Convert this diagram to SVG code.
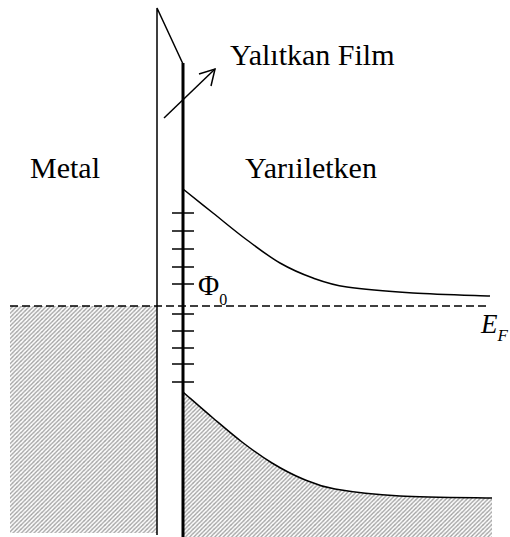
<svg xmlns="http://www.w3.org/2000/svg" width="510" height="537" viewBox="0 0 510 537">
<defs>
<pattern id="hatch" patternUnits="userSpaceOnUse" width="4.2" height="4.2">
<rect width="4.2" height="4.2" fill="#fff"/>
<path d="M-1,1.1 L1.1,-1 M0,4.2 L4.2,0 M3.1,5.2 L5.2,3.1" stroke="#a0a0a0" stroke-width="1.3"/>
</pattern>
<style>
.ln{stroke:#000;fill:none;stroke-width:1.5}
.tk{stroke:#000;stroke-width:1.5}
</style>
</defs>
<g id="metal-fill">
<rect x="10" y="306" width="147" height="227" fill="url(#hatch)"/>
</g>
<g id="semi-fill">
<path d="M183,392 C188,396.3 203.2,409.7 213,418 C222.8,426.3 232.2,434.5 242,442 C251.8,449.5 261.8,456.8 272,463 C282.2,469.2 292.5,474.7 303,479 C313.5,483.3 318.8,486.2 335,489 C351.2,491.8 373.8,494.5 400,496 C426.2,497.5 476.7,497.7 492,498 L492,537 L183,537 Z" fill="url(#hatch)"/>
</g>
<g id="metal-edge">
<path class="ln" d="M157,535 L157,8 L183,64"/>
</g>
<g id="insulator">
<line x1="183" y1="63" x2="183" y2="537" stroke="#000" stroke-width="3"/>
</g>
<g id="states">
<line class="tk" x1="172" y1="213" x2="194" y2="213"/>
<line class="tk" x1="172" y1="231" x2="194" y2="231"/>
<line class="tk" x1="172" y1="249" x2="194" y2="249"/>
<line class="tk" x1="172" y1="267" x2="194" y2="267"/>
<line class="tk" x1="172" y1="284" x2="194" y2="284"/>
<line class="tk" x1="172" y1="314" x2="194" y2="314"/>
<line class="tk" x1="172" y1="331" x2="194" y2="331"/>
<line class="tk" x1="172" y1="348" x2="194" y2="348"/>
<line class="tk" x1="172" y1="364" x2="194" y2="364"/>
<line class="tk" x1="172" y1="382" x2="194" y2="382"/>
</g>
<g id="bands">
<path class="ln" d="M183,189 C188,193 202.3,204.5 213,213 C223.7,221.5 235.8,231.7 247,240 C258.2,248.3 269,256.7 280,263 C291,269.3 301.8,274 313,278 C324.2,282 330.3,284.5 347,287 C363.7,289.5 389.2,291.5 413,293 C436.8,294.5 477.2,295.5 490,296"/>
<path class="ln" d="M183,392 C188,396.3 203.2,409.7 213,418 C222.8,426.3 232.2,434.5 242,442 C251.8,449.5 261.8,456.8 272,463 C282.2,469.2 292.5,474.7 303,479 C313.5,483.3 318.8,486.2 335,489 C351.2,491.8 373.8,494.5 400,496 C426.2,497.5 476.7,497.7 492,498"/>
</g>
<g id="fermi">
<line x1="10" y1="306" x2="490" y2="306" stroke="#000" stroke-width="1.5" stroke-dasharray="8,4"/>
</g>
<g id="connectors">
<line class="ln" x1="164" y1="118" x2="215" y2="69"/>
<polyline class="ln" points="199,74 215,69 211,86"/>
</g>
<g id="labels" font-family="'Liberation Serif', 'Times New Roman', serif" fill="#000">
<text x="230" y="65" font-size="30">Yalıtkan Film</text>
<text x="30" y="178" font-size="30">Metal</text>
<text x="245" y="178" font-size="30">Yarıiletken</text>
<text x="198" y="295" font-size="29">Φ<tspan font-size="16" dy="10">0</tspan></text>
<text x="481" y="333" font-size="27" font-style="italic">E<tspan font-size="17" dy="8">F</tspan></text>
</g>
</svg>
